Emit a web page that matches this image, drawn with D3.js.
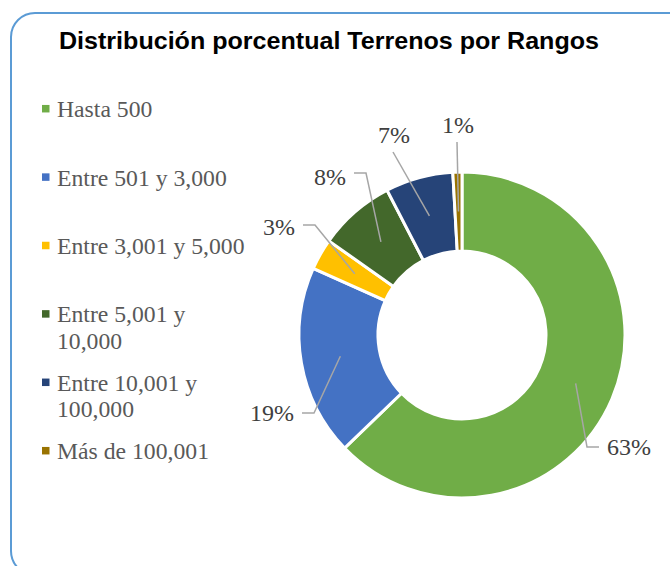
<!DOCTYPE html>
<html>
<head>
<meta charset="utf-8">
<script src="https://cdn.jsdelivr.net/npm/d3@7"></script>
<style>
  body { margin: 0; background: #fff; }
  svg { display: block; }
</style>
</head>
<body>
<div id="chart"></div>
<script>
// categories (legend lines) and values
const categories = ["Hasta 500", "Entre 501 y 3,000", "Entre 3,001 y 5,000", "Entre 5,001 y 10,000", "Entre 10,001 y 100,000", "Más de 100,001"]
const legendLines = [["Hasta 500"], ["Entre 501 y 3,000"], ["Entre 3,001 y 5,000"], ["Entre 5,001 y", "10,000"], ["Entre 10,001 y", "100,000"], ["Más de 100,001"]]
const values = [62.8, 18.9, 3.1, 7.6, 6.7, 0.9]
const colours = ["#70AD47", "#4472C4", "#FFC000", "#43682B", "#264478", "#997300"]

// where the data labels were dragged to, relative to the donut centre
const labelLayout = [
    {elbow: [125, 112], end: [137, 112], text: [145, 120], anchor: "start"},
    {elbow: [-148, 78], end: [-160, 78], text: [-168, 86], anchor: "end"},
    {elbow: [-147, -110], end: [-159, -110], text: [-167, -100], anchor: "end"},
    {elbow: [-96, -162], end: [-108, -162], text: [-116, -150], anchor: "end"},
    {elbow: null, end: [-69, -183], text: [-68, -192], anchor: "middle"},
    {elbow: null, end: [-5, -193], text: [-4, -202], anchor: "middle"}
]

let svgWidth = 670
let svgHeight = 566

let svg = d3.select("#chart")
    .append("svg")
        .attr("width", svgWidth)
        .attr("height", svgHeight)

//chart area border
svg.append("rect")
    .attr("x", 11)
    .attr("y", 13)
    .attr("width", 690)
    .attr("height", 562)
    .attr("rx", 24)
    .attr("fill", "#fff")
    .attr("stroke", "#5B9BD5")
    .attr("stroke-width", 2)

//title
svg.append("text")
    .attr("x", 59)
    .attr("y", 49)
    .attr("textLength", 540)
    .attr("lengthAdjust", "spacingAndGlyphs")
    .style("font-family", "'Liberation Sans', Arial, sans-serif")
    .style("font-weight", "bold")
    .style("font-size", "24px")
    .style("fill", "#000")
    .text("Distribución porcentual Terrenos por Rangos")

//legend
let legend = svg.append("g")
let rowY = d3.scaleLinear().domain([0, 1]).range([108.7, 177.1])

legendLines.forEach(function(lines, i){
    let y = rowY(i)
    legend.append("rect")
        .attr("x", 42)
        .attr("y", y - 3.75)
        .attr("width", 7.5)
        .attr("height", 7.5)
        .attr("fill", colours[i])
    legend.append("text")
        .attr("x", 57)
        .attr("y", y + 8.5)
        .style("font-family", "'Liberation Serif', 'Times New Roman', serif")
        .style("font-size", "23.7px")
        .style("fill", "#595959")
        .selectAll("tspan")
        .data(lines)
        .join("tspan")
            .attr("x", 57)
            .attr("dy", (d, j) => j === 0 ? 0 : 26.3)
            .text(d => d)
})

//donut
let cx = 462, cy = 335
let innerR = 84, outerR = 163

let g = svg.append("g")
    .attr("transform", `translate(${cx}, ${cy})`)

let pie = d3.pie()
    .sort(null)
    .value(d => d)
let data_ready = pie(values)

let arcGenerator = d3.arc()
    .innerRadius(innerR)
    .outerRadius(outerR)

g.selectAll("slices")
    .data(data_ready)
    .join("path")
    .attr("d", arcGenerator)
    .attr("fill", (d, i) => colours[i])
    .attr("stroke", "#fff")
    .style("stroke-width", "3px")

//leader lines from slice centre to the label
g.selectAll("leaders")
    .data(data_ready)
    .join("polyline")
    .attr("points", function(d, i){
        let lay = labelLayout[i]
        let pts = [arcGenerator.centroid(d)]
        if (lay.elbow) pts.push(lay.elbow)
        pts.push(lay.end)
        return pts.map(p => p.join(",")).join(" ")
    })
    .attr("fill", "none")
    .attr("stroke", "#A6A6A6")
    .attr("stroke-width", 1.5)

//percentage labels
g.selectAll("labels")
    .data(data_ready)
    .join("text")
    .attr("x", (d, i) => labelLayout[i].text[0])
    .attr("y", (d, i) => labelLayout[i].text[1])
    .attr("text-anchor", (d, i) => labelLayout[i].anchor)
    .style("font-family", "'Liberation Serif', 'Times New Roman', serif")
    .style("font-size", "24px")
    .style("fill", "#404040")
    .text(d => Math.round(d.data) + "%")
</script>
</body>
</html>
